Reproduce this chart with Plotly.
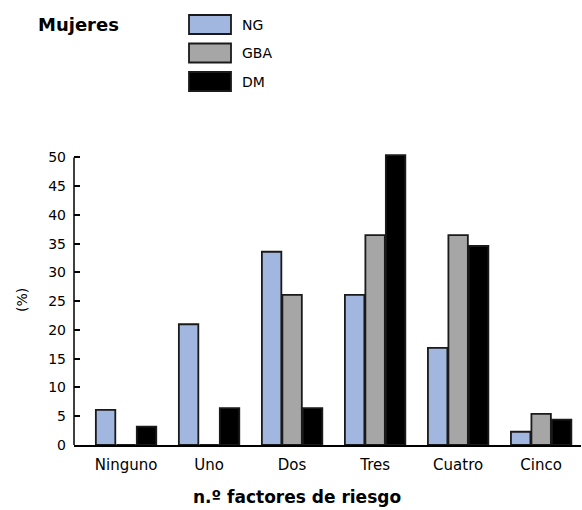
import plotly.graph_objects as go

# Data
categories = ["Ninguno", "Uno", "Dos", "Tres", "Cuatro", "Cinco"]
series_names = ["NG", "GBA", "DM"]
ng_values = [6.1, 21.0, 33.6, 26.1, 16.9, 2.3]
gba_values = [0, 0, 26.1, 36.5, 36.5, 5.4]
dm_values = [3.2, 6.4, 6.4, 50.4, 34.6, 4.4]
y_ticks = [0, 5, 10, 15, 20, 25, 30, 35, 40, 45, 50]

colors = {"NG": "#a2b7df", "GBA": "#a6a6a6", "DM": "#000000"}
FONT = "DejaVu Sans"

fig = go.Figure()

for name, vals in zip(series_names, [ng_values, gba_values, dm_values]):
    fig.add_trace(go.Bar(
        x=categories,
        y=vals,
        name=name,
        marker=dict(color=colors[name], line=dict(color="#1a1a1a", width=1.8)),
        showlegend=False,
    ))

# Custom legend: wide swatches drawn as shapes, labels as annotations
for i, name in enumerate(series_names):
    top = 15 + i * 28.5
    fig.add_shape(
        type="rect", xref="paper", yref="paper",
        x0=(189 - 74) / 507, x1=(231 - 74) / 507,
        y0=(445 - top) / 291, y1=(445 - top - 19) / 291,
        fillcolor=colors[name], line=dict(color="#1a1a1a", width=1.8),
    )
    fig.add_annotation(
        text=name, xref="paper", yref="paper",
        x=(240 - 74) / 507, y=(445 - top - 10) / 291,
        xanchor="left", yanchor="middle", showarrow=False,
        font=dict(size=14, color="#000", family=FONT),
    )

# Title "Mujeres"
fig.add_annotation(
    text="<b>Mujeres</b>", xref="paper", yref="paper",
    x=(36 - 74) / 507, y=(445 - 24) / 291,
    xanchor="left", yanchor="middle", showarrow=False,
    font=dict(size=18, color="#000", family=FONT),
)

# Axis titles
fig.add_annotation(
    text="<b>n.º factores de riesgo</b>", xref="paper", yref="paper",
    x=(297 - 74) / 507, y=(445 - 497) / 291,
    xanchor="center", yanchor="middle", showarrow=False,
    font=dict(size=17, color="#000", family=FONT),
)
fig.add_annotation(
    text="(%)", xref="paper", yref="paper",
    x=(22 - 74) / 507, y=(445 - 300) / 291, textangle=-90,
    xanchor="center", yanchor="middle", showarrow=False,
    font=dict(size=14, color="#000", family=FONT),
)

fig.update_layout(
    width=582, height=510,
    margin=dict(l=74, r=1, t=154, b=65),
    paper_bgcolor="white", plot_bgcolor="white",
    barmode="group", bargap=0.26, bargroupgap=0.05,
    font=dict(family=FONT, size=14, color="#000"),
    xaxis=dict(
        range=[-0.627, 5.48],
        showline=True, linecolor="#000", linewidth=1.5,
        ticks="", showgrid=False, zeroline=False,
        tickfont=dict(size=15), ticklabelstandoff=5,
    ),
    yaxis=dict(
        range=[0, 50.6],
        tickvals=y_ticks,
        showline=False, showgrid=False, zeroline=False,
        ticks="inside", ticklen=6, tickwidth=1.5, tickcolor="#000",
        tickfont=dict(size=14), ticklabelstandoff=7,
    ),
)

# y axis line running from 0 to 50 only
fig.add_shape(type="line", xref="paper", yref="y", x0=0, x1=0, y0=0, y1=50,
              line=dict(color="#000", width=1.5))

# drop the browser's default body margin so the figure sits at the page corner
fig.write_html("out.html", config={"displayModeBar": False},
               post_script="document.body.style.margin='0';")
